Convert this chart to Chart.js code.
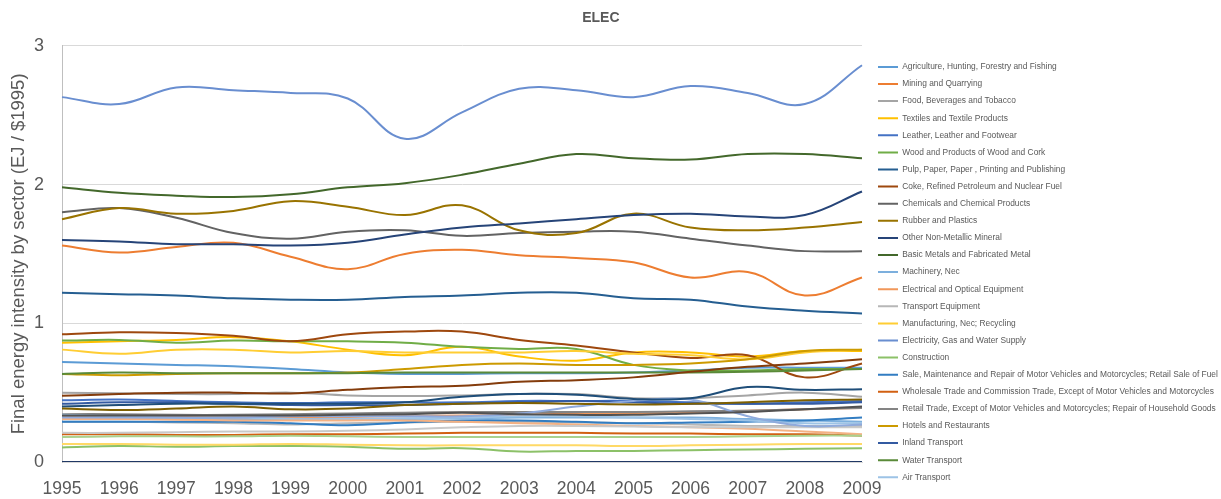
<!DOCTYPE html>
<html>
<head>
<meta charset="UTF-8">
<title>ELEC</title>
<script src="https://cdn.jsdelivr.net/npm/chart.js"></script>
<style>
body { margin:0; background:#fff; }
#wrap { width:1221px; height:499px; }
</style>
</head>
<body>
<div id="wrap"><canvas id="canvas" width="1221" height="499"></canvas></div>
<script>
// years on the x axis
var years = ['1995','1996','1997','1998','1999','2000','2001','2002','2003','2004','2005','2006','2007','2008','2009'];
var yTicks = [0, 1, 2, 3];

// sector names (only the first 25 appear in the legend, as in the original)
var sectors = [
  'Agriculture, Hunting, Forestry and Fishing',
  'Mining and Quarrying',
  'Food, Beverages and Tobacco',
  'Textiles and Textile Products',
  'Leather, Leather and Footwear',
  'Wood and Products of Wood and Cork',
  'Pulp, Paper, Paper , Printing and Publishing',
  'Coke, Refined Petroleum and Nuclear Fuel',
  'Chemicals and Chemical Products',
  'Rubber and Plastics',
  'Other Non-Metallic Mineral',
  'Basic Metals and Fabricated Metal',
  'Machinery, Nec',
  'Electrical and Optical Equipment',
  'Transport Equipment',
  'Manufacturing, Nec; Recycling',
  'Electricity, Gas and Water Supply',
  'Construction',
  'Sale, Maintenance and Repair of Motor Vehicles and Motorcycles; Retail Sale of Fuel',
  'Wholesale Trade and Commission Trade, Except of Motor Vehicles and Motorcycles',
  'Retail Trade, Except of Motor Vehicles and Motorcycles; Repair of Household Goods',
  'Hotels and Restaurants',
  'Inland Transport',
  'Water Transport',
  'Air Transport',
  'Other Supporting and Auxiliary Transport Activities; Activities of Travel Agencies',
  'Post and Telecommunications',
  'Financial Intermediation',
  'Real Estate Activities',
  'Renting of M&Eq and Other Business Activities',
  'Public Admin and Defence; Compulsory Social Security',
  'Education',
  'Health and Social Work',
  'Other Community, Social and Personal Services',
  'Private Households with Employed Persons'
];

var colors = [
  '#5B9BD5','#ED7D31','#A5A5A5','#FFC000','#4472C4','#70AD47',
  '#255E91','#9E480E','#636363','#997300','#264478','#43682B',
  '#7CAFDD','#F1975A','#B7B7B7','#FFCD33','#698ED0','#8CC168',
  '#327DC2','#D26012','#848484','#CC9A00','#335AA1','#5A8A39',
  '#9DC3E6','#F4B183','#C9C9C9','#FFD966','#8FAADC','#A9D18E',
  '#1F4E79','#843C0C','#525252','#7F6000','#203864'
];

// values, EJ / $1995
var agriculture   = [0.72,0.71,0.70,0.69,0.67,0.645,0.635,0.635,0.64,0.64,0.645,0.66,0.68,0.68,0.68];
var mining        = [1.56,1.51,1.55,1.58,1.48,1.39,1.50,1.53,1.49,1.47,1.44,1.33,1.37,1.20,1.33];
var food          = [0.50,0.495,0.49,0.49,0.50,0.48,0.475,0.48,0.49,0.49,0.46,0.46,0.48,0.50,0.47];
var textiles      = [0.86,0.87,0.88,0.90,0.87,0.81,0.77,0.83,0.76,0.73,0.79,0.79,0.76,0.80,0.80];
var leather       = [0.445,0.45,0.44,0.43,0.425,0.43,0.43,0.43,0.44,0.44,0.44,0.43,0.42,0.43,0.44];
var wood          = [0.875,0.88,0.86,0.875,0.87,0.87,0.86,0.83,0.815,0.815,0.70,0.66,0.66,0.67,0.67];
var pulp          = [1.22,1.21,1.20,1.18,1.17,1.17,1.19,1.20,1.22,1.22,1.18,1.17,1.12,1.09,1.07];
var coke          = [0.92,0.935,0.93,0.91,0.87,0.92,0.94,0.94,0.88,0.84,0.79,0.75,0.77,0.61,0.71];
var chemicals     = [1.80,1.83,1.76,1.65,1.61,1.66,1.67,1.63,1.65,1.66,1.66,1.61,1.56,1.52,1.52];
var rubber        = [1.75,1.83,1.79,1.81,1.88,1.84,1.78,1.85,1.67,1.65,1.79,1.69,1.67,1.69,1.73];
var nonMetallic   = [1.60,1.59,1.57,1.57,1.56,1.58,1.64,1.69,1.72,1.75,1.78,1.79,1.77,1.78,1.95];
var basicMetals   = [1.98,1.94,1.92,1.91,1.93,1.98,2.01,2.07,2.15,2.22,2.19,2.18,2.22,2.22,2.19];
var machinery     = [0.33,0.32,0.315,0.31,0.31,0.31,0.31,0.315,0.32,0.32,0.32,0.32,0.31,0.30,0.29];
var electrical    = [0.32,0.325,0.325,0.32,0.32,0.325,0.33,0.335,0.34,0.35,0.35,0.36,0.37,0.38,0.39];
var transportEq   = [0.29,0.29,0.285,0.28,0.27,0.28,0.285,0.29,0.29,0.285,0.28,0.27,0.26,0.26,0.26];
var manufacturing = [0.81,0.78,0.81,0.81,0.79,0.80,0.79,0.79,0.79,0.80,0.78,0.77,0.74,0.79,0.81];
var electricity   = [2.63,2.58,2.70,2.68,2.66,2.62,2.33,2.52,2.69,2.68,2.63,2.71,2.66,2.58,2.86];
var construction  = [0.105,0.115,0.11,0.115,0.115,0.11,0.095,0.10,0.075,0.08,0.08,0.085,0.09,0.095,0.10];
var sale          = [0.29,0.29,0.29,0.29,0.28,0.265,0.285,0.30,0.30,0.29,0.28,0.285,0.29,0.30,0.32];
var wholesale     = [0.20,0.20,0.195,0.195,0.20,0.20,0.205,0.21,0.21,0.21,0.205,0.205,0.20,0.20,0.19];
var retail        = [0.345,0.345,0.34,0.34,0.345,0.35,0.355,0.36,0.36,0.36,0.36,0.365,0.37,0.38,0.39];
var hotels        = [0.635,0.625,0.635,0.64,0.64,0.645,0.67,0.70,0.71,0.70,0.70,0.71,0.74,0.80,0.81];
var inland        = [0.42,0.43,0.43,0.42,0.41,0.41,0.41,0.42,0.43,0.44,0.43,0.42,0.42,0.42,0.43];
var water         = [0.635,0.645,0.64,0.64,0.64,0.64,0.645,0.645,0.645,0.645,0.645,0.645,0.65,0.66,0.67];
var air           = [0.34,0.33,0.32,0.32,0.31,0.31,0.315,0.32,0.33,0.33,0.32,0.31,0.30,0.28,0.28];
var auxTransport  = [0.31,0.31,0.305,0.30,0.30,0.30,0.30,0.29,0.28,0.27,0.26,0.25,0.24,0.22,0.20];
var telecom       = [0.21,0.21,0.215,0.22,0.22,0.225,0.235,0.25,0.26,0.26,0.255,0.25,0.25,0.25,0.25];
var financial     = [0.13,0.13,0.125,0.125,0.13,0.125,0.12,0.12,0.12,0.12,0.115,0.12,0.125,0.13,0.13];
var realEstate    = [0.32,0.32,0.32,0.32,0.33,0.33,0.33,0.33,0.35,0.40,0.44,0.45,0.33,0.26,0.27];
var renting       = [0.18,0.185,0.185,0.185,0.19,0.185,0.18,0.18,0.18,0.18,0.18,0.18,0.185,0.19,0.19];
var publicAdmin   = [0.40,0.41,0.42,0.42,0.42,0.42,0.43,0.47,0.49,0.485,0.455,0.46,0.54,0.52,0.525];
var education     = [0.477,0.49,0.50,0.50,0.494,0.52,0.54,0.55,0.578,0.59,0.61,0.65,0.686,0.71,0.74];
var health        = [0.335,0.335,0.335,0.335,0.335,0.34,0.345,0.355,0.345,0.34,0.34,0.35,0.36,0.38,0.40];
var community     = [0.385,0.375,0.385,0.40,0.38,0.385,0.41,0.42,0.425,0.42,0.415,0.42,0.43,0.445,0.45];
var households    = [0,0,0,0,0,0,0,0,0,0,0,0,0,0,0];

var series = [agriculture, mining, food, textiles, leather, wood, pulp, coke, chemicals, rubber,
  nonMetallic, basicMetals, machinery, electrical, transportEq, manufacturing, electricity,
  construction, sale, wholesale, retail, hotels, inland, water, air, auxTransport, telecom,
  financial, realEstate, renting, publicAdmin, education, health, community, households];

var textColor = '#595959';
var datasets = [];
for (var i = 0; i < series.length; i++) {
  datasets.push({
    label: sectors[i],
    data: series[i],
    borderColor: colors[i],
    backgroundColor: colors[i],
    borderWidth: 2,
    pointRadius: 0,
    tension: 0.4,
    yAxisID: 'y',
    order: -i   // later series drawn on top, like the spreadsheet
  });
}

var ctx = document.getElementById('canvas').getContext('2d');
var chart = new Chart(ctx, {
  type: 'line',
  data: { labels: years, datasets: datasets },
  options: {
    responsive: false,
    animation: false,
    layout: { padding: { left: 8, right: 0, top: 0, bottom: 0 } },
    plugins: {
      title: {
        display: true,
        text: 'ELEC       ',   // trailing blanks nudge the centred title left
        color: textColor,
        font: { family: 'Liberation Sans', size: 14, weight: 'bold' },
        padding: { top: 10, bottom: 19 }
      },
      legend: {
        position: 'right',
        align: 'start',
        maxWidth: 351.7,
        title: { display: true, text: ' ', font: { size: 1 }, padding: { top: 52.8, bottom: 0 } },
        labels: {
          boxWidth: 20,
          boxHeight: 2,
          padding: 8.7,
          color: textColor,
          font: { family: 'Liberation Sans', size: 8.4 },
          filter: function (item) { return item.datasetIndex < 25; },
          sort: function (a, b) { return a.datasetIndex - b.datasetIndex; },
          generateLabels: function (c) {
            var items = Chart.defaults.plugins.legend.labels.generateLabels(c);
            items.forEach(function (it) { it.lineWidth = 0; });
            return items;
          }
        }
      },
      tooltip: { enabled: false }
    },
    scales: {
      x: {
        grid: { display: false, drawTicks: false },
        border: { color: '#D9D9D9' },
        afterFit: function (s) { s.height = 37; },
        ticks: { color: textColor, font: { family: 'Liberation Sans', size: 17.5 }, maxRotation: 0, autoSkip: false, padding: 17 }
      },
      y: {
        min: 0,
        max: 3,
        afterBuildTicks: function (s) { s.ticks = yTicks.map(function (v) { return { value: v }; }); },
        afterFit: function (s) { s.width = 54; },
        grid: { color: '#D9D9D9', drawTicks: false },
        border: { color: '#BFBFBF' },
        ticks: { color: textColor, font: { family: 'Liberation Sans', size: 18 }, padding: 18 },
        title: {
          display: true,
          text: 'Final energy intensity by sector (EJ / $1995)',
          color: textColor,
          font: { family: 'Liberation Sans', size: 18.5 },
          padding: 0
        }
      },
      // empty spacer between the plot and the legend
      gap: {
        position: 'right',
        display: true,
        grid: { display: false },
        border: { display: false },
        ticks: { display: false },
        afterFit: function (s) { s.width = 7.3; }
      }
    }
  }
});
</script>
</body>
</html>
